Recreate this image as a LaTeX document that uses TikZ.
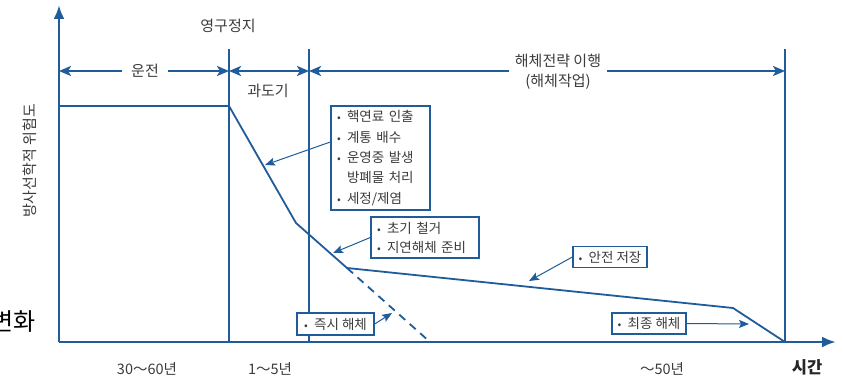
\documentclass[tikz,border=0pt]{standalone}
\usepackage{fontspec}
\setmainfont{Noto Sans CJK KR}
\usetikzlibrary{arrows.meta}
\definecolor{lineblue}{RGB}{31,92,153}
\definecolor{txt}{RGB}{60,60,60}
\newcommand\bul{\makebox[10pt][l]{\fontsize{11}{11}\selectfont •}}
\begin{document}
\begin{tikzpicture}[x=1pt,y=-1pt,
  axis/.style={lineblue,line width=2.8pt,-{Latex[length=14pt,width=11pt]}},
  divider/.style={lineblue,line width=2pt},
  spanarrow/.style={lineblue,line width=2.5pt,{Stealth[length=12pt,width=10pt,inset=3pt]}-{Stealth[length=12pt,width=10pt,inset=3pt]}},
  curve/.style={lineblue,line width=1.8pt,line join=miter},
  callout/.style={draw=lineblue,line width=1.4pt,fill=white,text=txt,font=\fontsize{13.5}{20.3}\selectfont,align=left,inner xsep=6pt,inner ysep=0pt,anchor=center},
  pointer/.style={lineblue,line width=1pt,-{Stealth[length=10pt,width=8pt,inset=2pt]}},
  lbl/.style={text=txt,font=\fontsize{15}{18}\selectfont,inner sep=0pt},
  axlbl/.style={text=txt,font=\fontsize{14.5}{16}\selectfont,inner sep=0pt},
]
\useasboundingbox (0,0) rectangle (843,377);
\fill[white] (0,0) rectangle (843,377);

% coordinates
\coordinate (O) at (59,342);
\coordinate (Ytop) at (59,5);
\coordinate (Xend) at (836,342);
\coordinate (d1t) at (229,49); \coordinate (d1b) at (229,342);
\coordinate (d2t) at (309,49); \coordinate (d2b) at (309,342);
\coordinate (d3t) at (785,49); \coordinate (d3b) at (785,342);
\coordinate (s0) at (59,71); \coordinate (s1) at (229,71);
\coordinate (s2) at (309,71); \coordinate (s3) at (785,71);
\coordinate (p0) at (59,106); \coordinate (p1) at (229,106);
\coordinate (p2) at (296,223); \coordinate (p3) at (347,268);
\coordinate (p4) at (733,308); \coordinate (p5) at (785,342);
\coordinate (p6) at (430,342);

% dividers
\draw[lineblue,line width=2.6pt] (d1t) -- (d1b);
\draw[divider] (d2t) -- (d2b);
\draw[divider] (d3t) -- (d3b);

% curve
\draw[curve] (p0) -- (p1) -- (p2) -- (p3) -- (p4) -- (p5);
\draw[curve,dash pattern=on 8pt off 6pt] (p3) -- (p6);

% axes
\draw[axis] (O) -- (Ytop);
\draw[axis] (O) -- (Xend);

% span arrows
\draw[spanarrow] (s0) -- (s1);
\draw[spanarrow] (s1) -- (s2);
\draw[spanarrow] (s2) -- (s3);
\node[lbl,fill=white,inner xsep=9pt,inner ysep=3pt] (run) at (145,71) {운전};
\node[lbl,fill=white,inner xsep=6pt,inner ysep=3pt,align=center,font=\fontsize{15}{19.5}\selectfont] (strat) at (558,72) {해체전략 이행\\(해체작업)};
\node[lbl] (trans) at (268,91) {과도기};
\node[lbl] (stop) at (228,26) {영구정지};

% callout boxes
\node[callout,minimum width=99pt,minimum height=104pt,text width=87pt] (b1) at (380.5,158)
  {\bul 핵연료 인출\\\bul 계통 배수\\\bul 운영중 발생\\\hspace*{10pt}방폐물 처리\\\bul 세정/제염};
\node[callout,font=\fontsize{13.5}{19}\selectfont,minimum width=108pt,minimum height=41pt,text width=96pt] (b2) at (425,237.5)
  {\bul 초기 철거\\\bul 지연해체 준비};
\node[callout,inner xsep=2pt,minimum width=74pt,minimum height=21pt] (b3) at (610,257) {\bul 안전 저장};
\node[callout,inner xsep=2pt,minimum width=77pt,minimum height=22pt] (b4) at (335.5,324) {\bul 즉시 해체};
\node[callout,inner xsep=2pt,minimum width=74pt,minimum height=21pt] (b5) at (649,323.5) {\bul 최종 해체};

% pointers
\coordinate (t1) at (265,165);
\coordinate (t2) at (333,253);
\coordinate (t3) at (529,281);
\coordinate (t4) at (392,313);
\coordinate (t5) at (749,324);
\draw[pointer] ([yshift=16pt]b1.west) -- (t1);
\draw[pointer] (b2.west) -- (t2);
\draw[pointer] (b3.west) -- (t3);
\draw[pointer] (b4.east) -- (t4);
\draw[pointer] (b5.east) -- (t5);

% axis labels
\node[lbl,rotate=90] (ylab) at (30,161) {방사선학적 위험도};
\node[axlbl] (l1) at (147,369) {30～60년};
\node[axlbl] (l2) at (270,369) {1～5년};
\node[axlbl] (l3) at (662,369) {～50년};
\node[lbl,text=black!85,font=\fontsize{16.5}{18}\selectfont\bfseries] (l4) at (807,367) {시간};
\node[inner sep=0pt,anchor=east,font=\fontsize{24}{26}\selectfont] (chg) at (36,322) {변화};
\end{tikzpicture}
\end{document}
